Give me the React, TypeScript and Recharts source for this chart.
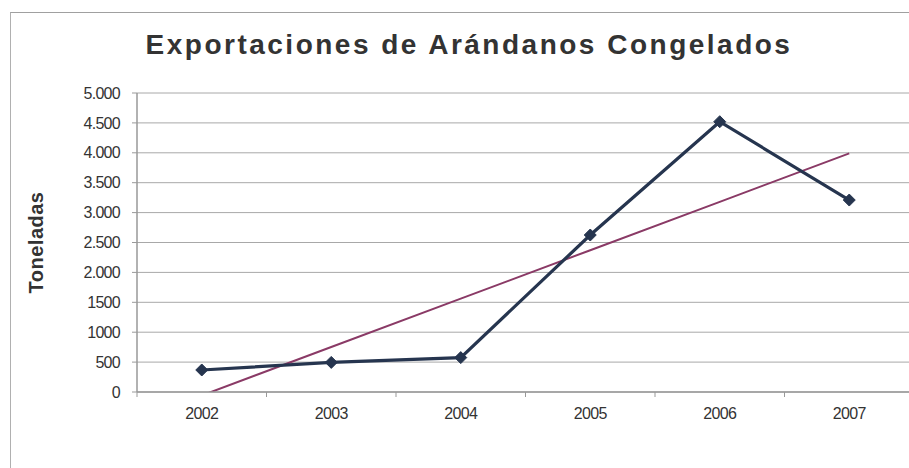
import React from "react";
import { LineChart, Line, XAxis, YAxis, CartesianGrid } from "recharts";

const years = ["2002", "2003", "2004", "2005", "2006", "2007"];
const toneladas = [368, 495, 575, 2625, 4520, 3210];
const tendencia = [-58, 752, 1561, 2371, 3180, 3990];
const yTicks = [0, 500, 1000, 1500, 2000, 2500, 3000, 3500, 4000, 4500, 5000];
const yTickLabels = ["0", "500", "1000", "1500", "2.000", "2.500", "3.000", "3.500", "4.000", "4.500", "5.000"];
// band edges (tick marks) and band centres (year labels)
const xTicks = [0, 0.5, 1, 1.5, 2, 2.5, 3, 3.5, 4, 4.5, 5, 5.5, 6];

const data = years.map((y, i) => ({
  year: y,
  idx: i + 0.5,
  value: toneladas[i],
  trend: tendencia[i],
}));

const Diamond = (props: any) => {
  const { cx, cy } = props;
  if (cx == null || cy == null) return null;
  const r = 6;
  return (
    <path
      d={`M${cx},${cy - r} L${cx + r},${cy} L${cx},${cy + r} L${cx - r},${cy} Z`}
      fill="#26354f"
      stroke="#26354f"
      strokeWidth={1}
    />
  );
};

const XTick = (props: any) => {
  const { x, y, payload } = props;
  const v = payload.value as number;
  if (Number.isInteger(v)) {
    return <line x1={x} y1={y} x2={x} y2={y + 5} stroke="#999" strokeWidth={1} />;
  }
  return (
    <text
      x={x}
      y={y + 27}
      textAnchor="middle"
      fill="#333"
      fontSize={16}
      letterSpacing={-0.7}
    >
      {years[Math.floor(v)]}
    </text>
  );
};

export default function App() {
  return (
    <div
      style={{
        position: "absolute",
        left: 0,
        top: 0,
        width: 909,
        height: 468,
        overflow: "hidden",
        background: "#fff",
        fontFamily: "'Liberation Sans', Arial, sans-serif",
      }}
    >
      <div
        style={{
          position: "absolute",
          left: 10,
          top: 12,
          width: 910,
          height: 470,
          borderLeft: "1px solid #b0b0b0",
          borderTop: "1px solid #a0a0a0",
        }}
      />
      <div
        style={{
          position: "absolute",
          left: 0,
          top: 29,
          width: 938,
          textAlign: "center",
          fontSize: 28,
          fontWeight: "bold",
          color: "#333",
          letterSpacing: 2.5,
        }}
      >
        Exportaciones de Arándanos Congelados
      </div>
      <div style={{ position: "absolute", left: 0, top: 0 }}>
        <LineChart
          width={915}
          height={468}
          data={data}
          margin={{ top: 93, right: 1, bottom: 0, left: 0 }}
        >
          <CartesianGrid vertical={false} stroke="#a8a8a8" strokeWidth={1} />
          <XAxis
            dataKey="idx"
            type="number"
            domain={[0, 6]}
            ticks={xTicks}
            interval={0}
            tick={<XTick />}
            axisLine={{ stroke: "#999", strokeWidth: 1.5 }}
            tickLine={false}
            tickSize={0}
            tickMargin={0}
            height={76}
          />
          <YAxis
            width={137}
            domain={[0, 5000]}
            ticks={yTicks}
            allowDataOverflow
            interval={0}
            tickFormatter={(v: number) => yTickLabels[yTicks.indexOf(v)]}
            axisLine={{ stroke: "#999", strokeWidth: 1.5 }}
            tickLine={{ stroke: "#999" }}
            tickSize={5}
            tickMargin={12}
            tick={{ fill: "#333", fontSize: 16, letterSpacing: -0.7 }}
            label={{
              value: "Toneladas",
              angle: -90,
              position: "insideLeft",
              offset: 36,
              style: { textAnchor: "middle", fontSize: 20, fontWeight: "bold", fill: "#333", letterSpacing: 0.5 },
            }}
          />
          <Line
            dataKey="trend"
            stroke="#8a3a66"
            strokeWidth={2}
            dot={false}
            isAnimationActive={false}
          />
          <Line
            dataKey="value"
            stroke="#26354f"
            strokeWidth={3.2}
            dot={<Diamond />}
            isAnimationActive={false}
          />
        </LineChart>
      </div>
    </div>
  );
}
